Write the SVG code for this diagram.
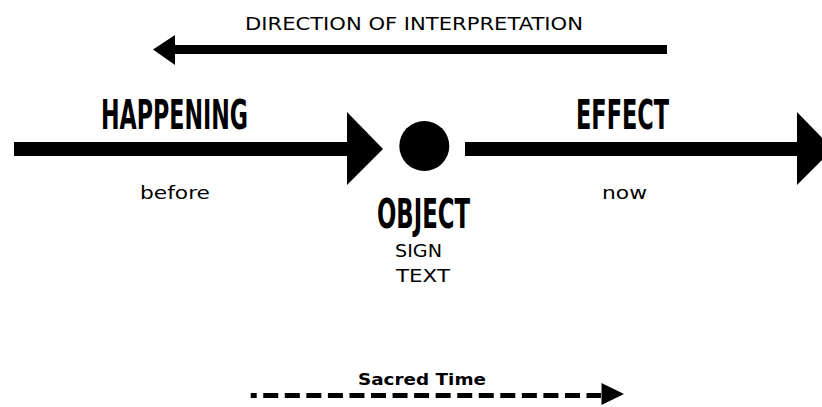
<svg xmlns="http://www.w3.org/2000/svg" width="822" height="407" viewBox="0 0 822 407">
  <style>
    .bg { fill: #ffffff; }
    .shaft { fill: #000000; }
    .head { fill: #000000; }
    .sans { font-family: "DejaVu Sans", Verdana, sans-serif; font-size: 17px; fill: #000000; }
    .title { font-family: "Liberation Sans Narrow", "DejaVu Sans Condensed", "Liberation Sans", sans-serif; font-weight: bold; font-size: 40px; fill: #000000; }
    .dash { stroke: #000000; stroke-width: 5; fill: none; stroke-dasharray: 15 6.55; stroke-dashoffset: 9; }
  </style>
  <rect class="bg" x="0" y="0" width="822" height="407"/>

  <g id="connectors">
    <!-- direction of interpretation arrow (points left) -->
    <g id="direction-arrow">
      <rect class="shaft" x="174" y="45" width="493" height="9"/>
      <polygon class="head" points="153,49.5 175,35 175,65"/>
    </g>
    <!-- happening arrow -->
    <g id="happening-arrow">
      <rect class="shaft" x="14" y="142" width="334" height="14"/>
      <polygon class="head" points="347,112 383,149 347,185"/>
    </g>
    <!-- effect arrow -->
    <g id="effect-arrow">
      <rect class="shaft" x="465" y="142" width="333" height="14"/>
      <polygon class="head" points="797,112 833,149 797,185"/>
    </g>
    <!-- sacred time dashed arrow -->
    <g id="sacred-time-arrow">
      <line class="dash" x1="250.7" y1="395.5" x2="601" y2="395.5"/>
      <polygon class="head" points="601.5,383 624,394 601.5,405"/>
    </g>
  </g>

  <g id="direction">
    <text class="sans" x="245" y="30" textLength="338" lengthAdjust="spacingAndGlyphs">DIRECTION OF INTERPRETATION</text>
  </g>

  <g id="happening">
    <text class="title" x="101" y="128.5" textLength="147" lengthAdjust="spacingAndGlyphs">HAPPENING</text>
    <text class="sans" x="140" y="199" textLength="70" lengthAdjust="spacingAndGlyphs">before</text>
  </g>

  <g id="object">
    <circle cx="424.3" cy="146" r="25" fill="#000000"/>
    <text class="title" x="377" y="228" textLength="93" lengthAdjust="spacingAndGlyphs">OBJECT</text>
    <text class="sans" x="395" y="257" textLength="47" lengthAdjust="spacingAndGlyphs">SIGN</text>
    <text class="sans" x="396" y="282" textLength="54" lengthAdjust="spacingAndGlyphs">TEXT</text>
  </g>

  <g id="effect">
    <text class="title" x="576" y="129" textLength="93" lengthAdjust="spacingAndGlyphs">EFFECT</text>
    <text class="sans" x="602" y="199" textLength="45" lengthAdjust="spacingAndGlyphs">now</text>
  </g>

  <g id="sacred-time">
    <text class="sans" x="358" y="385" font-size="15" font-weight="bold" style="font-size:15px;font-weight:bold" textLength="128" lengthAdjust="spacingAndGlyphs">Sacred Time</text>
  </g>
</svg>
